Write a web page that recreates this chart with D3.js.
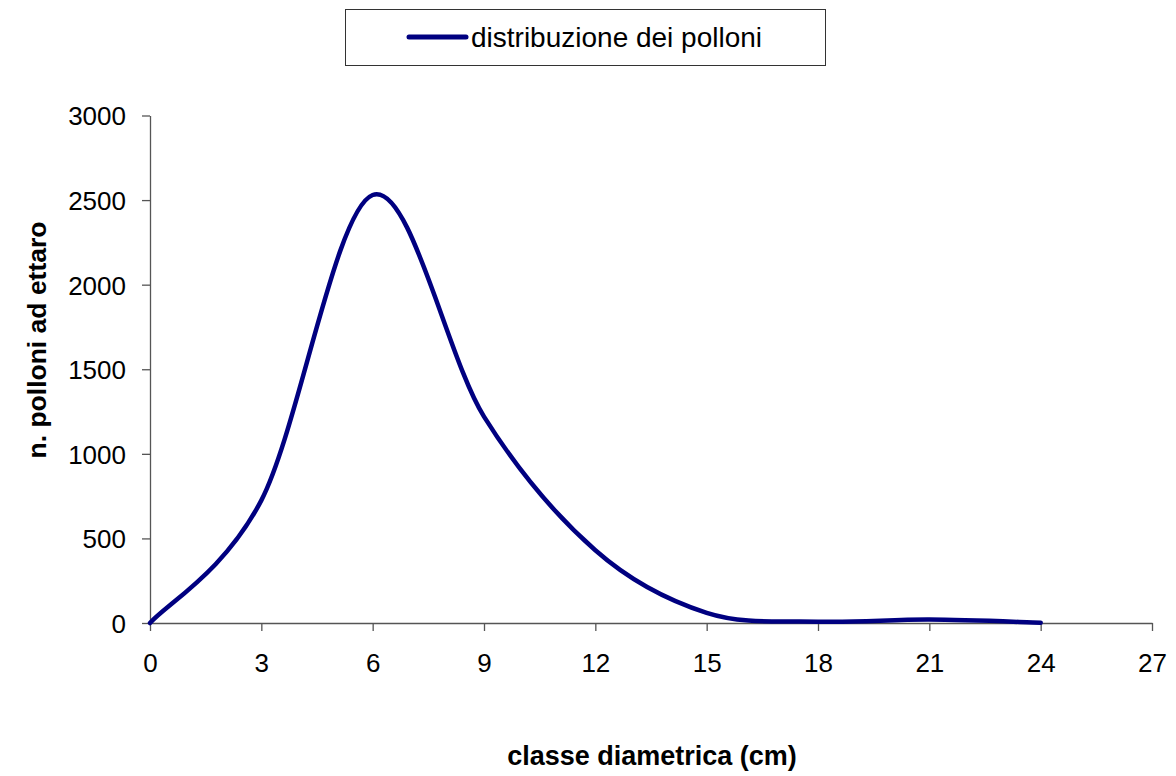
<!DOCTYPE html>
<html>
<head>
<meta charset="utf-8">
<script src="https://cdn.jsdelivr.net/npm/d3@7"></script>
<style>
  html, body { margin: 0; padding: 0; background: #fff; }
  svg { display: block; font-family: "Liberation Sans", Arial, Helvetica, sans-serif; }
</style>
</head>
<body>
<svg id="chart" width="1176" height="776"></svg>
<script>
// ---- data ----
const classes = [0, 3, 6, 9, 12, 15, 18, 21, 24];
const polloni = [0, 725, 2530, 1220, 430, 60, 8, 20, 2];
const xTicks = [0, 3, 6, 9, 12, 15, 18, 21, 24, 27];
const yTicks = [0, 500, 1000, 1500, 2000, 2500, 3000];
const seriesName = "distribuzione dei polloni";
const xTitle = "classe diametrica (cm)";
const yTitle = "n. polloni ad ettaro";

// ---- layout ----
const svg = d3.select("#chart");
const x = d3.scaleLinear().domain([0, 27]).range([150, 1152]);
const y = d3.scaleLinear().domain([0, 3000]).range([623, 115.5]);
const axisColor = "#555";

// Excel-like smoothed line (Bezier with 1/6 neighbour tangents)
function ExcelSmooth(context) { this._context = context; }
ExcelSmooth.prototype = {
  areaStart() { this._line = 0; },
  areaEnd() { this._line = NaN; },
  lineStart() { this._pts = []; },
  point(px, py) { this._pts.push([+px, +py]); },
  lineEnd() {
    const p = this._pts, c = this._context, n = p.length;
    if (!n) return;
    c.moveTo(p[0][0], p[0][1]);
    for (let i = 0; i < n - 1; i++) {
      const p0 = p[Math.max(i - 1, 0)], p1 = p[i], p2 = p[i + 1], p3 = p[Math.min(i + 2, n - 1)];
      c.bezierCurveTo(
        p1[0] + (p2[0] - p0[0]) / 6, p1[1] + (p2[1] - p0[1]) / 6,
        p2[0] - (p3[0] - p1[0]) / 6, p2[1] - (p3[1] - p1[1]) / 6,
        p2[0], p2[1]);
    }
  }
};
const excelCurve = ctx => new ExcelSmooth(ctx);

// ---- axes ----
const gx = svg.append("g").attr("transform", `translate(0,${y(0)})`)
  .call(d3.axisBottom(x).tickValues(xTicks).tickFormat(d3.format("d"))
    .tickSize(8).tickSizeOuter(0).tickPadding(24));
const gy = svg.append("g").attr("transform", `translate(${x(0)},0)`)
  .call(d3.axisLeft(y).tickValues(yTicks).tickFormat(d3.format("d"))
    .tickSize(8).tickSizeOuter(0).tickPadding(16));
[gx, gy].forEach(g => {
  g.select(".domain").attr("stroke", axisColor).attr("stroke-width", 1.3);
  g.selectAll(".tick line").attr("stroke", axisColor).attr("stroke-width", 1.3);
  g.selectAll(".tick text").attr("fill", "#000").attr("font-size", 26)
    .attr("font-family", "'Liberation Sans', Arial, sans-serif");
});
gx.selectAll(".tick text").attr("dy", null).attr("y", 49);
gy.selectAll(".tick text").attr("dy", "0.36em");

// ---- line ----
const line = d3.line().x((d, i) => x(classes[i])).y(d => y(d)).curve(excelCurve);
svg.append("path").datum(polloni)
  .attr("d", line)
  .attr("fill", "none")
  .attr("stroke", "#000080")
  .attr("stroke-width", 4.5)
  .attr("stroke-linejoin", "round")
  .attr("stroke-linecap", "round");

// ---- titles ----
svg.append("text").attr("x", 652).attr("y", 765).attr("text-anchor", "middle")
  .attr("font-size", 27).attr("font-weight", "bold").text(xTitle);
svg.append("text").attr("transform", "translate(46,340) rotate(-90)")
  .attr("text-anchor", "middle").attr("font-size", 26.5).attr("font-weight", "bold").text(yTitle);

// ---- legend ----
const lg = svg.append("g");
lg.append("rect").attr("x", 345.5).attr("y", 9.5).attr("width", 480).attr("height", 56)
  .attr("fill", "#fff").attr("stroke", "#333").attr("stroke-width", 1);
lg.append("line").attr("x1", 409).attr("x2", 466).attr("y1", 37).attr("y2", 37)
  .attr("stroke", "#000080").attr("stroke-width", 5).attr("stroke-linecap", "round");
lg.append("text").attr("x", 471).attr("y", 47).attr("font-size", 28).text(seriesName);
</script>
</body>
</html>
